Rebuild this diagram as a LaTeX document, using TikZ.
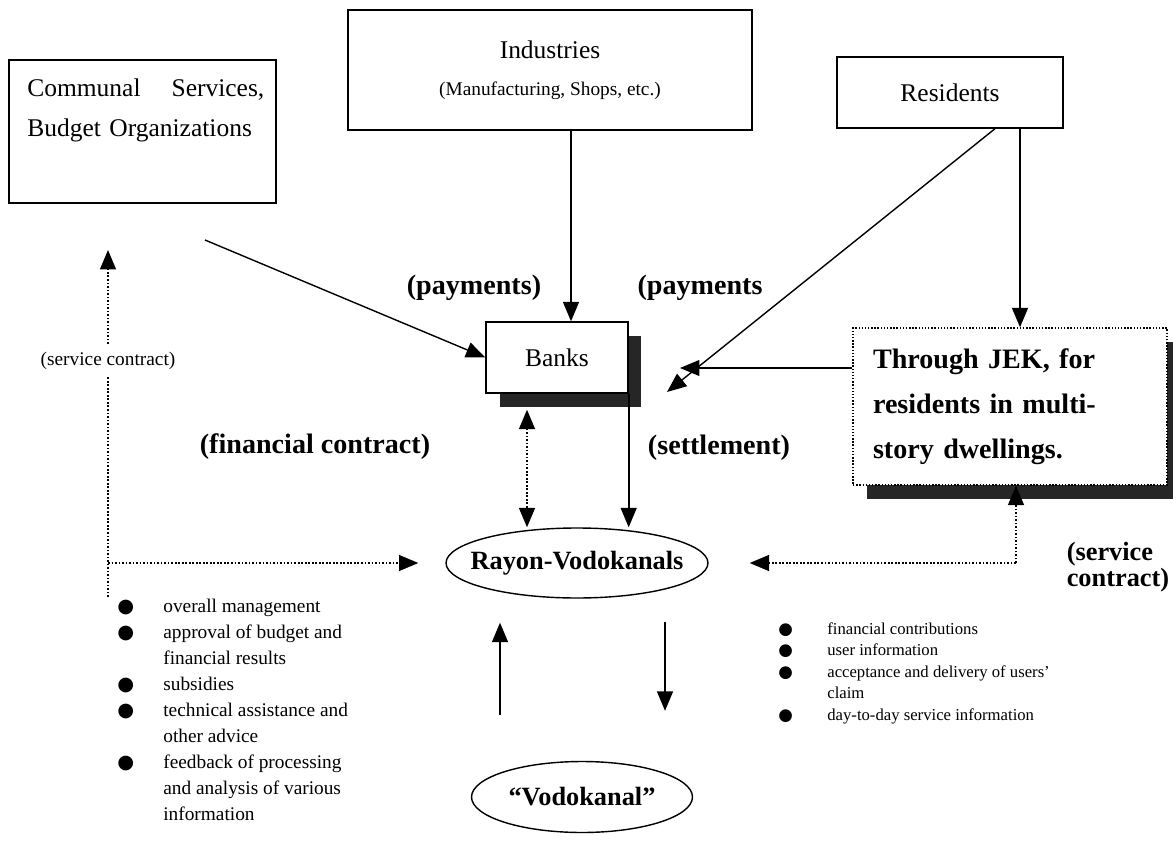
\documentclass[tikz,border=0pt]{standalone}
\usepackage{fontspec}
\setmainfont{Liberation Serif}
\newfontfamily\symfont{DejaVu Sans}
\usepackage{tikz}
\usetikzlibrary{shapes, arrows.meta, shadows, calc}

\tikzstyle{block} =
        [
                rectangle,
                draw,
                fill = white,
                line width = 0.8pt,
                font = \fontsize{14.5}{19}\selectfont
        ]
\tikzstyle{darkshadow} =
        [
                drop shadow = {shadow xshift = 0.27cm, shadow yshift = -0.28cm, fill = black!85, opacity = 1}
        ]
\tikzstyle{oval} =
        [
                draw,
                ellipse,
                line width = 0.8pt,
                inner xsep = -0.6cm,
                inner ysep = 0pt,
                font = \bfseries\fontsize{15}{18}\selectfont
        ]
\tikzstyle{line} =
        [
                draw,
                line width = 1pt,
                ->
        ]
\tikzstyle{dotline} =
        [
                draw,
                densely dotted,
                line width = 1pt,
                ->
        ]
\tikzstyle{note} =
        [
                font = \bfseries\fontsize{16}{19}\selectfont
        ]
\tikzstyle{bullets} =
        [
                anchor = north west,
                inner sep = 0pt
        ]
\newcommand{\blob}{{\symfont ●}}

\begin{document}
\begin{tikzpicture}[x = 0.02cm, y = -0.02cm, >={Triangle[length = 11pt, width = 9pt]}]
        \useasboundingbox (0,0) rectangle (1173,851);

        \node [block, minimum width = 5.34cm, minimum height = 2.86cm] (comm) at (142.5,131.5) {};
        \node [anchor = north west, text width = 4.74cm, align = left, inner sep = 0pt, font = \fontsize{14.5}{22.8}\selectfont] (commtext) at (27,78) {Communal\hfill Services,\\Budget Organizations};
        \node [block, minimum width = 8.08cm, minimum height = 2.4cm, align = center] (ind) at (550,70) {Industries\\[2pt]{\fontsize{11}{13}\selectfont (Manufacturing, Shops, etc.)}};
        \node [block, minimum width = 4.52cm, minimum height = 1.42cm] (res) at (950,92.5) {Residents};
        \node [block, darkshadow, minimum width = 2.84cm, minimum height = 1.42cm] (banks) at (557,357.5) {Banks};
        \node [block, darkshadow, densely dotted, text width = 5.48cm, inner xsep = 0.4cm, minimum height = 3.14cm, align = left, font = \bfseries\fontsize{16}{25.6}\selectfont] (jek) at (1010,406.5) {Through JEK, for\\residents in multi-\\story dwellings.};
        \node [oval, minimum width = 5.24cm, minimum height = 1.4cm] (ray) at (577,563) {Rayon-Vodokanals};
        \node [oval, minimum width = 4.42cm, minimum height = 1.42cm] (vodo) at (582,797) {“Vodokanal”};

        \node [note] (pay1) at (474,288) {(payments)};
        \node [note] (pay2) at (700,288) {(payments};
        \node [note] (fincon) at (315,447) {(financial contract)};
        \node [note] (settle) at (719,448) {(settlement)};
        \node [note, align = left, font = \bfseries\fontsize{15}{13.5}\selectfont] (svc) at (1118,567) {(service\\contract)};

        \node [bullets, font = \fontsize{11}{14.8}\selectfont] (duties) at (117,594) {%
                \begin{tabular}{@{}p{0.92cm}@{}l@{}}
                \blob & overall management\\
                \blob & approval of budget and\\
                      & financial results\\
                \blob & subsidies\\
                \blob & technical assistance and\\
                      & other advice\\
                \blob & feedback of processing\\
                      & and analysis of various\\
                      & information
                \end{tabular}};
        \node [bullets, font = \fontsize{9.5}{12.2}\selectfont] (inputs) at (778,619) {%
                \begin{tabular}{@{}p{0.98cm}@{}l@{}}
                \blob & financial contributions\\
                \blob & user information\\
                \blob & acceptance and delivery of users'\\
                      & claim\\
                \blob & day-to-day service information
                \end{tabular}};

        \coordinate (commout) at (205,240);
        \coordinate (payx) at (571,0);
        \coordinate (diagx) at (995,0);
        \coordinate (resx) at (1020,0);
        \coordinate (resin) at (667,392);
        \coordinate (jekin) at (680,368);
        \coordinate (finx) at (527,0);
        \coordinate (lbot) at (108,597);
        \coordinate (lturn) at (108,563);
        \coordinate (ltop) at (108,250);
        \coordinate (rturn) at (1016,563);
        \coordinate (upx) at (500,0);
        \coordinate (downx) at (665,0);

        \path [line] (ind.south -| payx) -- (banks.north -| payx);
        \path [line, line width = 0.8pt] (commout) -- (banks.west);
        \path [line, line width = 0.8pt] (res.south -| diagx) -- (resin);
        \path [line] (res.south -| resx) -- (jek.north -| resx);
        \path [line, line width = 0.8pt] (jek.west |- jekin) -- (jekin);
        \path [dotline, <->, shorten <= 0.32cm] (banks.south -| finx) -- (ray.north -| finx);
        \path [line] (banks.south east) -- (banks.south east |- ray.north);
        \path [dotline] (lbot) -- node [pos = 0.68, fill = white, font = \fontsize{11}{13}\selectfont] (svcleft) {(service contract)} (ltop);
        \path [dotline, shorten >= 0.54cm] (lturn) -- (ray.west |- lturn);
        \path [dotline] (rturn) -- (jek.south -| rturn);
        \path [dotline, shorten >= 0.82cm] (rturn) -- (ray.east |- rturn);
        \path [line, shorten <= 0.92cm, shorten >= 0.48cm] (vodo.north -| upx) -- (ray.south -| upx);
        \path [line, shorten <= 0.46cm, shorten >= 1cm] (ray.south -| downx) -- (vodo.north -| downx);
\end{tikzpicture}
\end{document}
